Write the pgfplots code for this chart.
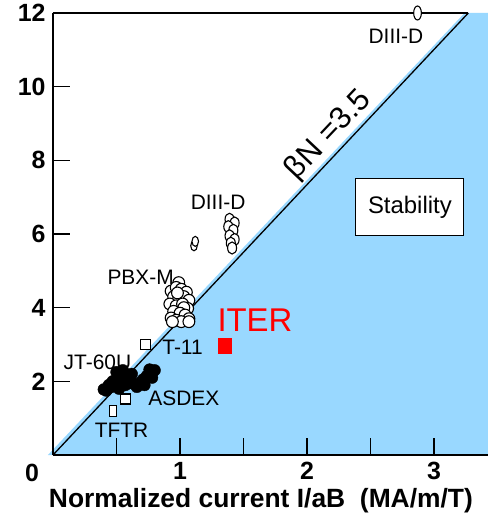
\documentclass[border=0pt]{standalone}
\usepackage{fontspec}
\setmainfont{Liberation Sans}
\usepackage{pgfplots}
\pgfplotsset{compat=1.18}
\definecolor{stab}{RGB}{153,216,255}
\begin{document}
\begin{tikzpicture}
\begin{axis}[
    name=ax,
    scale only axis,
    width=435bp, height=442bp,
    xmin=0, xmax=3.425, ymin=0, ymax=12,
    axis lines=left,
    axis line style={-, line width=1.6bp},
    axis on top,
    clip=false,
    tick align=inside,
    major tick length=17bp,
    tick style={black, line width=1.4bp},
    xtick={0.5,1,1.5,2,2.5,3},
    xticklabels={,1,,2,,3},
    ytick={2,4,6,8,10,12},
    yticklabels={2,4,6,8,10,12},
    ticklabel style={font=\bfseries\fontsize{25}{25}\selectfont},
    xticklabel style={yshift=-4bp},
    yticklabel style={xshift=-4bp},
    xlabel={Normalized current I/aB~~(MA/m/T)},
    xlabel style={font=\bfseries\fontsize{26.5}{26.5}\selectfont,
        at={(axis description cs:0.478,0)}, anchor=center, yshift=-46bp},
]
% stability region
\addplot[fill=stab, draw=none] coordinates {(-0.04,0) (3.24,12) (3.425,12) (3.425,0)} -- cycle;
% beta_N limit
\addplot[black, line width=1.3bp] coordinates {(0,0) (3.27,12)};
\draw[line width=1.6bp] (axis cs:0,12) -- (axis cs:3.27,12);

% PBX-M, open circles
\addplot[only marks, mark=*, mark size=5.9bp, mark options={fill=white, draw=black, line width=1.1bp}]
coordinates {
 (0.99,4.68) (0.93,4.45) (0.97,4.55) (1.01,4.50) (1.05,4.42)
 (0.95,4.30) (0.99,4.25) (1.03,4.30) (1.07,4.20) (0.98,4.40)
 (0.92,4.10) (0.97,4.05) (1.02,4.10) (1.06,3.98) (1.03,4.00)
 (0.95,3.90) (1.00,3.85) (1.04,3.80) (1.07,3.70) (0.93,3.72)
 (0.97,3.66) (1.01,3.62) (0.94,3.62) (1.07,3.62)
};
% DIII-D, open ovals
\addplot[only marks, mark=*, mark size=6bp, mark options={fill=white, draw=black, line width=1.1bp, xscale=0.75}]
coordinates {
 (1.39,6.40) (1.43,6.30) (1.38,6.20) (1.42,6.10) (1.39,5.95)
 (1.43,5.85) (1.40,5.75) (1.41,5.62)
};
\addplot[only marks, mark=*, mark size=5bp, mark options={fill=white, draw=black, line width=1.1bp, xscale=0.65}]
coordinates {(1.11,5.68) (1.12,5.80)};
\addplot[only marks, mark=*, mark size=7bp, mark options={fill=white, draw=black, line width=1.1bp, xscale=0.55}]
coordinates {(2.87,12.0)};
% JT-60U, filled circles
\addplot[only marks, mark=*, mark size=5.9bp, mark options={fill=black, draw=black}]
coordinates {
 (0.42,1.75) (0.46,1.85) (0.50,1.95) (0.54,2.05) (0.58,2.15)
 (0.62,2.20) (0.55,2.30) (0.50,2.25) (0.47,2.00) (0.52,1.80)
 (0.57,1.90) (0.62,1.95) (0.66,1.85) (0.60,2.05) (0.44,1.90)
 (0.56,2.22) (0.40,1.78)
};
% ASDEX, filled circles
\addplot[only marks, mark=*, mark size=5.9bp, mark options={fill=black, draw=black}]
coordinates {
 (0.68,1.95) (0.71,2.05) (0.74,2.15) (0.77,2.25) (0.80,2.30)
 (0.78,2.10) (0.72,1.90) (0.76,2.32)
};
% T-11 and TFTR, open squares
\addplot[only marks, mark=square*, mark size=5bp, mark options={fill=white, draw=black, line width=1.1bp}]
coordinates {(0.73,3.0) (0.57,1.52)};
\addplot[only marks, mark=square*, mark size=5.5bp, mark options={fill=white, draw=black, line width=1.1bp, xscale=0.65}]
coordinates {(0.47,1.2)};
% ITER
\addplot[only marks, mark=square*, mark size=6.5bp, mark options={fill=red, draw=red, yscale=1.2}]
coordinates {(1.35,2.97)};

% labels
\node[font=\fontsize{21}{21}\selectfont] at (axis cs:2.70,11.38) {DIII-D};
\node[font=\fontsize{21}{21}\selectfont] at (axis cs:1.30,6.87) {DIII-D};
\node[font=\fontsize{21}{21}\selectfont] at (axis cs:0.69,4.83) {PBX-M};
\node[font=\fontsize{21}{21}\selectfont] at (axis cs:1.02,2.93) {T-11};
\node[font=\fontsize{21}{21}\selectfont] at (axis cs:0.35,2.53) {JT-60U};
\node[font=\fontsize{21}{21}\selectfont] at (axis cs:1.03,1.55) {ASDEX};
\node[font=\fontsize{21}{21}\selectfont] at (axis cs:0.54,0.68) {TFTR};
\node[red, font=\fontsize{33}{33}\selectfont] at (axis cs:1.59,3.67) {ITER};
\node[rotate=46.7, font=\fontsize{31}{31}\selectfont] at (axis cs:2.17,8.69) {βN =3.5};
\node[draw, fill=white, line width=1.1bp, minimum width=108bp, minimum height=57bp,
      font=\fontsize{24}{24}\selectfont] at (axis cs:2.81,6.73) {Stability};
\node[font=\bfseries\fontsize{25}{25}\selectfont] at (axis cs:0,0) [xshift=-21bp, yshift=-18bp] {0};
\end{axis}
\pgfresetboundingbox
\path ([shift={(-53bp,-65bp)}]ax.south west) rectangle ([shift={(0bp,13bp)}]ax.north east);
\end{tikzpicture}
\end{document}
